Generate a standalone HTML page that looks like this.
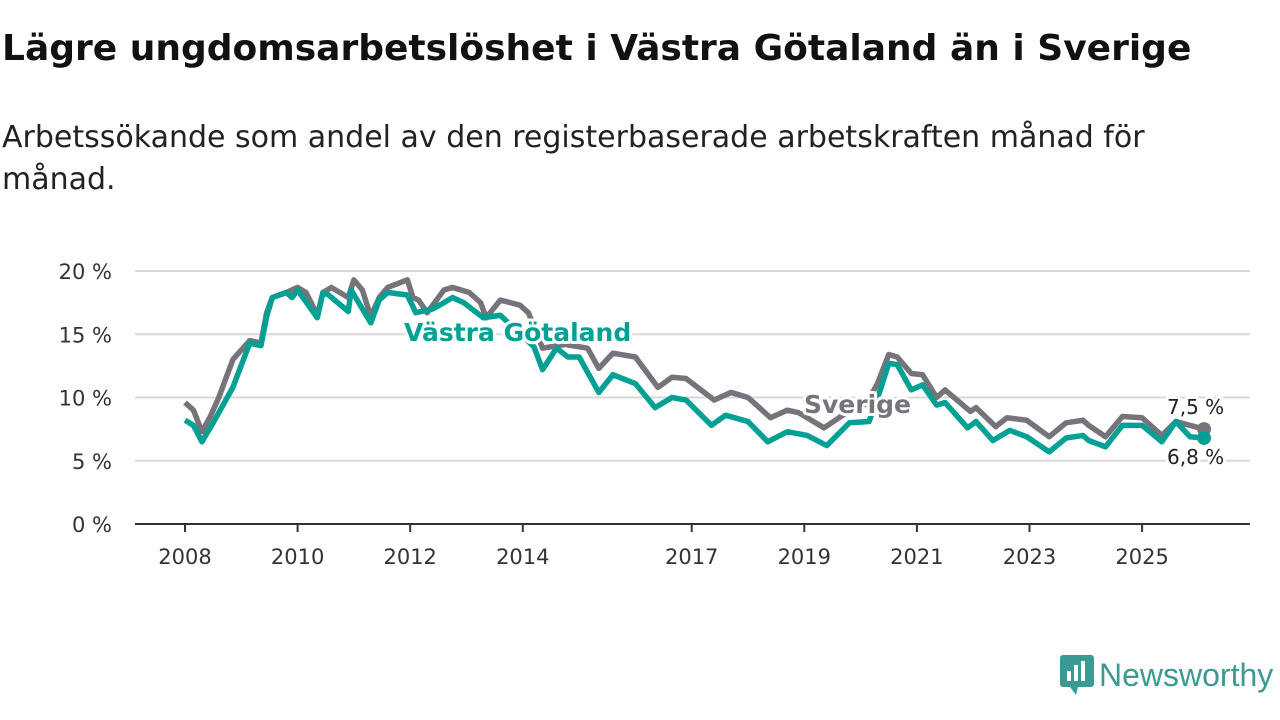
<!DOCTYPE html>
<html><head><meta charset="utf-8"><style>
body{margin:0;width:1280px;height:720px;background:#fff;font-family:"DejaVu Sans","Liberation Sans",sans-serif;overflow:hidden;position:relative}
h1{position:absolute;left:2px;top:28px;margin:0;font-size:36px;font-weight:bold;color:#111;white-space:nowrap}
p.sub{position:absolute;left:2px;top:117px;margin:0;font-size:30px;line-height:42px;color:#222;width:1190px}
</style></head><body>
<h1>Lägre ungdomsarbetslöshet i Västra Götaland än i Sverige</h1>
<p class="sub">Arbetssökande som andel av den registerbaserade arbetskraften månad för månad.</p>
<svg id="chart" width="1280" height="720" style="position:absolute;left:0;top:0"></svg>
<div style="position:absolute;left:1060px;top:655px;display:flex;align-items:center">
<svg width="34" height="40"><rect x="0" y="0" width="34" height="32" rx="3" fill="#3a9a94"/><polygon points="10,32 16,40 18,32" fill="#3a9a94"/><rect x="7" y="16" width="4" height="10" fill="#fff"/><rect x="14" y="10" width="4" height="16" fill="#fff"/><rect x="21" y="6" width="4" height="20" fill="#fff"/></svg>
<span style="font-family:'Liberation Sans',sans-serif;font-size:32px;color:#3a9a94;margin-left:5px">Newsworthy</span></div>
<script>
const yTicks=[0,5,10,15,20];
const xTicks=[2008,2010,2012,2014,2017,2019,2021,2023,2025];
const seDates=[2008.0,2008.15,2008.3,2008.45,2008.6,2008.85,2009.15,2009.35,2009.45,2009.55,2009.8,2010.0,2010.15,2010.35,2010.45,2010.6,2010.9,2011.0,2011.15,2011.3,2011.45,2011.6,2011.95,2012.05,2012.15,2012.3,2012.4,2012.6,2012.75,2013.05,2013.25,2013.35,2013.6,2013.95,2014.1,2014.35,2014.75,2015.15,2015.35,2015.6,2016.0,2016.4,2016.65,2016.9,2017.4,2017.7,2018.0,2018.4,2018.7,2018.9,2019.35,2019.75,2020.1,2020.3,2020.5,2020.65,2020.9,2021.1,2021.35,2021.5,2021.95,2022.05,2022.4,2022.6,2022.95,2023.35,2023.65,2023.95,2024.05,2024.35,2024.65,2025.0,2025.35,2025.6,2026.1];
const seVals=[9.6,9.0,7.3,8.5,10.0,13.0,14.5,14.3,16.7,17.9,18.3,18.7,18.3,16.5,18.3,18.7,17.9,19.3,18.5,16.4,17.9,18.7,19.3,17.9,17.7,16.7,17.3,18.5,18.7,18.3,17.5,16.3,17.7,17.3,16.7,13.9,14.2,13.9,12.3,13.5,13.2,10.8,11.6,11.5,9.8,10.4,10.0,8.4,9.0,8.8,7.6,8.8,9.5,11.1,13.4,13.2,11.9,11.8,10.0,10.6,8.9,9.2,7.7,8.4,8.2,6.9,8.0,8.2,7.8,6.9,8.5,8.4,7.0,8.1,7.5];
const vgDates=[2008.0,2008.15,2008.3,2008.5,2008.85,2009.15,2009.35,2009.45,2009.55,2009.8,2009.9,2010.0,2010.35,2010.45,2010.55,2010.9,2010.95,2011.3,2011.45,2011.6,2011.95,2012.1,2012.4,2012.6,2012.75,2012.95,2013.3,2013.6,2014.2,2014.35,2014.6,2014.8,2015.0,2015.35,2015.6,2016.0,2016.35,2016.65,2016.9,2017.35,2017.6,2018.0,2018.35,2018.7,2019.05,2019.4,2019.8,2020.15,2020.35,2020.5,2020.65,2020.9,2021.1,2021.35,2021.5,2021.9,2022.05,2022.35,2022.65,2022.95,2023.35,2023.65,2023.95,2024.05,2024.35,2024.65,2025.0,2025.35,2025.6,2025.85,2026.1];
const vgVals=[8.2,7.8,6.5,8.0,10.8,14.3,14.1,16.4,17.9,18.3,17.9,18.5,16.3,18.3,18.1,16.8,18.5,15.9,17.7,18.3,18.1,16.7,17.0,17.5,17.9,17.5,16.3,16.5,14.0,12.2,13.9,13.2,13.2,10.4,11.8,11.1,9.2,10.0,9.8,7.8,8.6,8.1,6.5,7.3,7.0,6.2,8.0,8.1,10.6,12.7,12.6,10.6,11.0,9.4,9.6,7.6,8.1,6.6,7.4,6.9,5.7,6.8,7.0,6.6,6.1,7.8,7.8,6.5,8.1,6.9,6.8];
const NS='http://www.w3.org/2000/svg';
const svg=document.getElementById('chart');
const X=t=>185+(t-2008)*56.3;
const Y=v=>524-v*12.65;
function mk(tag,attrs){const e=document.createElementNS(NS,tag);for(const k in attrs)e.setAttribute(k,attrs[k]);svg.appendChild(e);return e;}
yTicks.forEach(v=>{
  if(v>0){const g=mk('line',{x1:135,x2:1250,y1:Y(v),y2:Y(v),stroke:'#d8d8d8','stroke-width':2});
  
  }
  const t=mk('text',{x:112,y:Y(v)+8,'text-anchor':'end','font-size':21,fill:'#333'});t.textContent=v+' %';
  
  
});
const ax=mk('line',{x1:135,x2:1250,y1:Y(0),y2:Y(0),stroke:'#333','stroke-width':2});


xTicks.forEach(yr=>{
  const tk=mk('line',{x1:X(yr),x2:X(yr),y1:Y(0),y2:Y(0)+8,stroke:'#333','stroke-width':2});
  
  
  const t=mk('text',{x:X(yr),y:564,'text-anchor':'middle','font-size':21,fill:'#333'});t.textContent=yr;
  
  
});
function line(d,v,c,name){
  const p=mk('polyline',{points:d.map((t,i)=>X(t)+','+Y(v[i])).join(' '),fill:'none',stroke:c,'stroke-width':5.5,'stroke-linejoin':'round'});
  
  
  const c2=mk('circle',{cx:X(d[d.length-1]),cy:Y(v[v.length-1]),r:7,fill:c});
  
  
}
line(seDates,seVals,'#76747a','sverige-line');
line(vgDates,vgVals,'#00a094','vastra-gotaland-line');
function lab(x,y,txt,c,name,sz,bold){
  const t=mk('text',{x:x,y:y,'font-size':sz,fill:c,'font-weight':bold?'bold':'normal',stroke:'#fff','stroke-width':6,'paint-order':'stroke','stroke-linejoin':'round'});
  t.textContent=txt;
  
  
}
lab(404,341,'Västra Götaland','#00a094','vastra-gotaland-label',25,true);
lab(804,413,'Sverige','#76747a','sverige-label',25,true);
lab(1167,414,'7,5 %','#222','sverige-end-value',20,false);
lab(1167,464,'6,8 %','#222','vastra-gotaland-end-value',20,false);
</script>
</body></html>
